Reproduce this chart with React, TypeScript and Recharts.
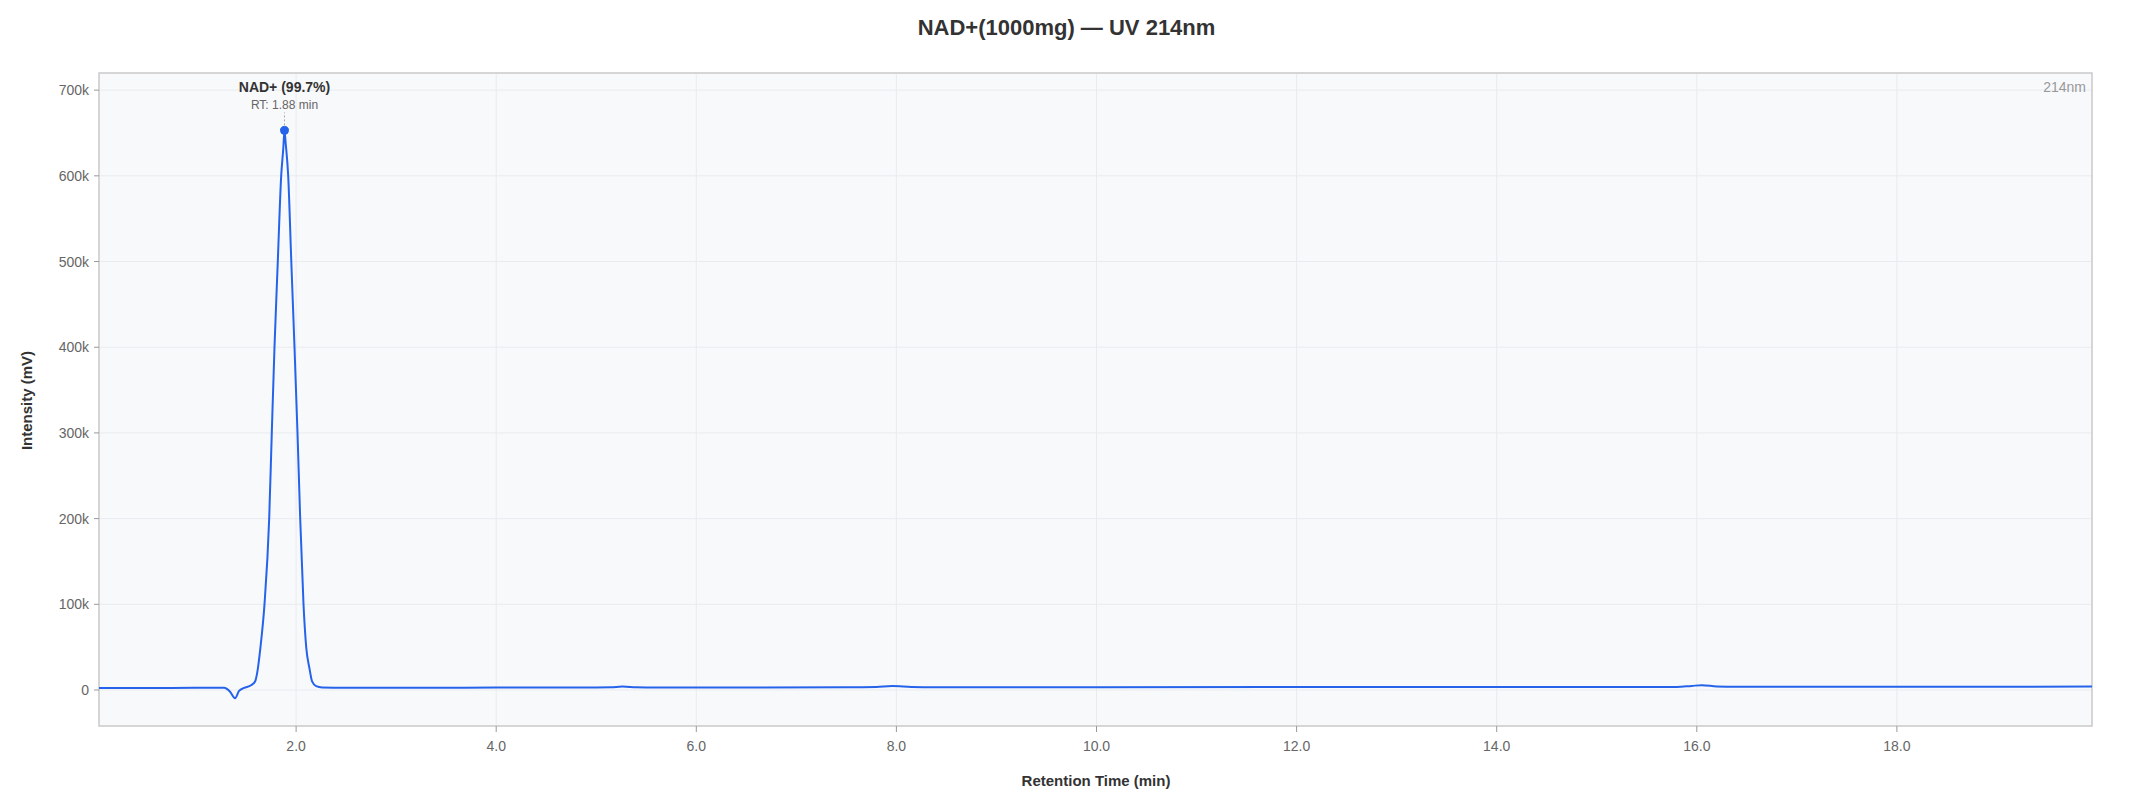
import React from 'react';
import { LineChart, Line, XAxis, YAxis, CartesianGrid, ReferenceArea, ReferenceDot } from 'recharts';

// retention time (min) and detector response (mV)
const retentionTimes = [
  0.03, 0.5, 1.0, 1.28, 1.34, 1.39, 1.43, 1.48, 1.55, 1.59, 1.611, 1.644, 1.684,
  1.731, 1.757, 1.784, 1.817, 1.851, 1.872, 1.884, 1.896, 1.921, 1.952, 1.984,
  2.014, 2.041, 2.074, 2.101, 2.134, 2.16, 2.2, 2.26, 2.5, 3.0, 4.0, 5.0, 5.15, 5.26, 5.4,
  5.6, 6.5, 7.5, 7.8, 7.96, 8.15, 8.4, 10.0, 12.0, 14.0, 15.8, 15.95, 16.05, 16.2, 16.4,
  18.0, 19.95,
];
const intensities = [
  2400, 2400, 2500, 2500, -2000, -9500, -1000, 2500, 5500, 10000, 20000, 50000, 100000,
  200000, 300000, 400000, 500000, 600000, 632000, 653000, 638000, 600000, 500000, 400000,
  300000, 200000, 100000, 50000, 25000, 10000, 4500, 3000, 2700, 2700, 2800, 2900, 3100, 4000, 3200,
  2900, 3000, 3100, 3600, 4700, 3600, 3200, 3300, 3400, 3500, 3500, 4800, 5600, 4200, 3800,
  3800, 4000,
];

const xTicks = [2, 4, 6, 8, 10, 12, 14, 16, 18];
const yTicks = [0, 100000, 200000, 300000, 400000, 500000, 600000, 700000];

const peakName = 'NAD+';
const peakArea = 99.7;
const peakRt = 1.88;
const peakTime = 1.884;
const peakHeight = 653000;

const X_DOMAIN: [number, number] = [0.03, 19.95];
const Y_DOMAIN: [number, number] = [-42000, 720000];

const data = retentionTimes.map((t, i) => ({ t, v: intensities[i] }));

const FONT = '"Liberation Sans", Arial, Helvetica, sans-serif';

function PeakLabel(props: any) {
  const vb = props.viewBox || {};
  const cx = vb.x + (vb.width || 0) / 2;
  const cy = vb.y + (vb.height || 0) / 2;
  return (
    <g>
      <line x1={cx} x2={cx} y1={cy - 5} y2={cy - 18} stroke="#aaaaaa" strokeWidth={1} strokeDasharray="2 2" />
      <text x={cx} y={cy - 38} textAnchor="middle" fontFamily={FONT} fontSize={14} fontWeight="bold" fill="#333333">
        {`${peakName} (${peakArea}%)`}
      </text>
      <text x={cx} y={cy - 21} textAnchor="middle" fontFamily={FONT} fontSize={12} fill="#666666">
        {`RT: ${peakRt.toFixed(2)} min`}
      </text>
    </g>
  );
}

function WavelengthLabel(props: any) {
  const vb = props.viewBox || {};
  return (
    <text x={vb.x + vb.width - 6} y={vb.y + 19} textAnchor="end" fontFamily={FONT} fontSize={14} fill="#999999">
      214nm
    </text>
  );
}

export default function App() {
  return (
    <div style={{ position: 'relative', width: 2117, height: 784, fontFamily: FONT }}>
      <div
        style={{
          position: 'absolute', top: 9, left: 0, width: 2117, textAlign: 'center',
          fontSize: 22, lineHeight: '22px', fontWeight: 'bold', color: '#333333',
        }}
      >
        NAD+(1000mg) — UV 214nm
      </div>

      <LineChart
        width={2117}
        height={784}
        data={data}
        margin={{ top: 65, right: 33, left: 0, bottom: 26 }}
      >
        <CartesianGrid stroke="#e9ebef" fill="#f8f9fb" fillOpacity={1} />
        <XAxis
          dataKey="t"
          type="number"
          domain={X_DOMAIN}
          ticks={xTicks}
          tickFormatter={(v: number) => v.toFixed(1)}
          height={40}
          axisLine={false}
          tickSize={6}
          tickMargin={9}
          tickLine={{ stroke: '#999999' }}
          tick={{ fill: '#666666', fontSize: 14, fontFamily: FONT }}
        />
        <YAxis
          type="number"
          domain={Y_DOMAIN}
          ticks={yTicks}
          tickFormatter={(v: number) => (v === 0 ? '0' : `${v / 1000}k`)}
          width={91}
          axisLine={false}
          tickSize={5}
          tickMargin={5}
          tickLine={{ stroke: '#999999' }}
          tick={{ fill: '#666666', fontSize: 14, fontFamily: FONT }}
        />
        <ReferenceArea
          x1={X_DOMAIN[0]}
          x2={X_DOMAIN[1]}
          y1={Y_DOMAIN[0]}
          y2={Y_DOMAIN[1]}
          fill="none"
          stroke="#cccccc"
          strokeWidth={1.5}
          label={(p: any) => <WavelengthLabel {...p} />}
        />
        <Line
          type="monotone"
          dataKey="v"
          stroke="#2563eb"
          strokeWidth={2}
          dot={false}
          isAnimationActive={false}
        />
        <ReferenceDot
          x={peakTime}
          y={peakHeight}
          r={4}
          fill="#2563eb"
          stroke="#2563eb"
          label={(p: any) => <PeakLabel {...p} />}
        />
      </LineChart>

      <div
        style={{
          position: 'absolute', top: 765, left: 988, width: 200, textAlign: 'center',
          fontSize: 15, lineHeight: '15px', fontWeight: 'bold', color: '#333333',
        }}
      >
        Retention Time (min)
      </div>
      <div
        style={{
          position: 'absolute', top: 384.5, left: -82, width: 200, textAlign: 'center',
          fontSize: 15, lineHeight: '15px', fontWeight: 'bold', color: '#333333',
          transform: 'rotate(-90deg)',
        }}
      >
        Intensity (mV)
      </div>
    </div>
  );
}
